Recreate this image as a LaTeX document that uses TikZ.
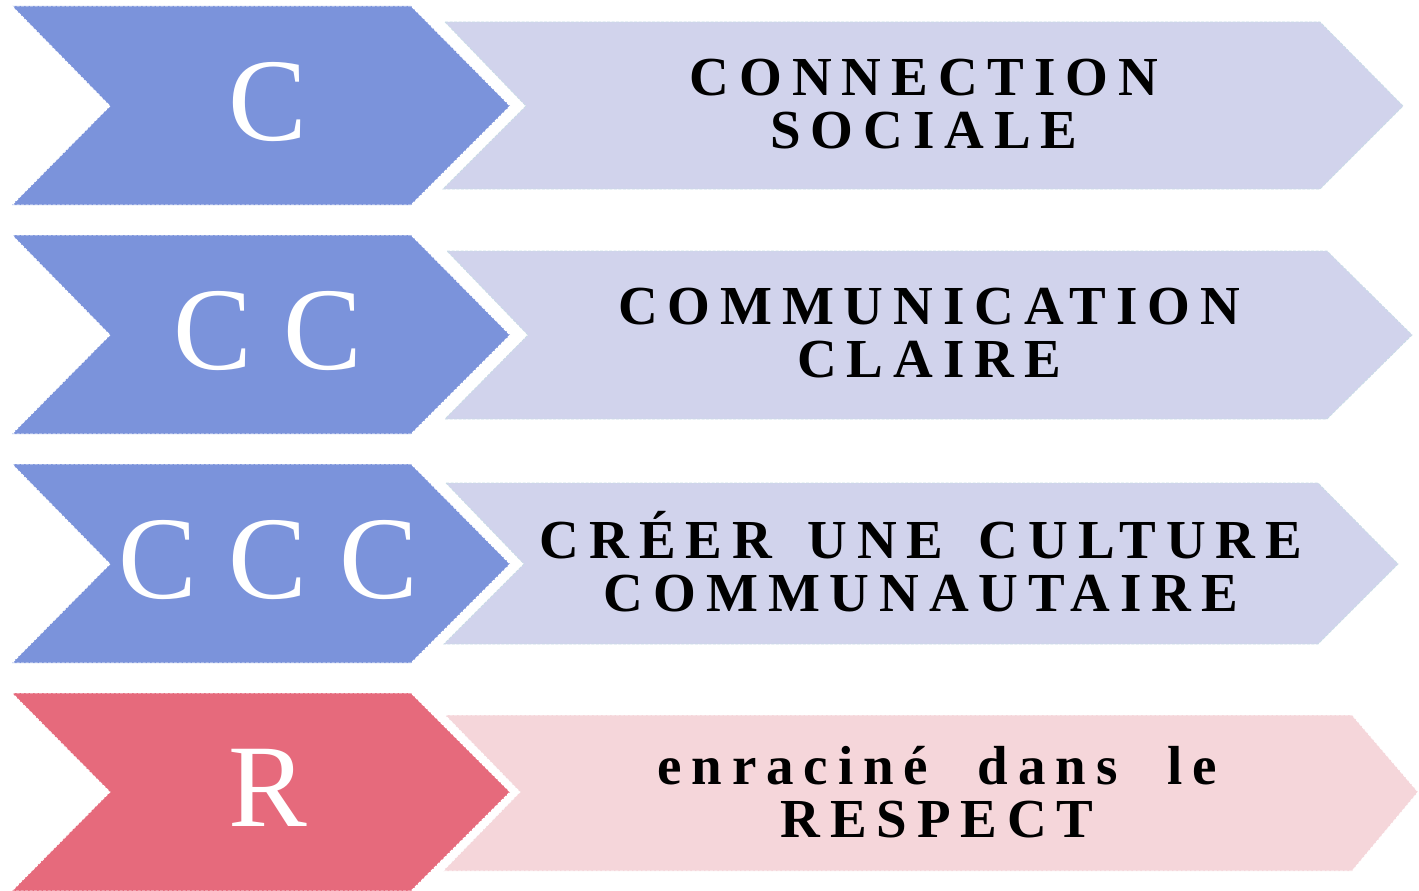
\documentclass[tikz,border=0pt]{standalone}
\usepackage{fontspec}
\setmainfont{Liberation Serif}
\newfontfamily\lblfont[LetterSpace=18,WordSpace=1.5]{Liberation Serif}
\newfontfamily\bigfont[LetterSpace=2]{Liberation Serif}
\definecolor{darkblue}{HTML}{7B93DB}
\definecolor{lightblue}{HTML}{D1D3EC}
\definecolor{darkred}{HTML}{E66A7C}
\definecolor{lightred}{HTML}{F5D6DA}
\definecolor{edgeblue}{HTML}{C9DCE6}
\tikzset{
  darkshape/.style={draw=white, line width=0.8pt, dash pattern=on 3pt off 1.5pt},
  lightshape/.style={draw=edgeblue, line width=0.8pt, dash pattern=on 3pt off 1.5pt},
  bigletter/.style={text=white, font=\bigfont\fontsize{118}{118}\selectfont, inner sep=0pt},
  label/.style={text=black, align=center, font=\lblfont\bfseries\fontsize{55}{53}\selectfont, inner sep=0pt}
}
\begin{document}
\begin{tikzpicture}[x=1pt,y=-1pt]
\useasboundingbox (0,0) rectangle (1419,891);
% row 1
\fill[darkblue,darkshape] (12,6) -- (411,6) -- (510,106) -- (411,205) -- (12,205) -- (110,106) -- cycle;
\fill[lightblue,lightshape] (445,22) -- (1320,22) -- (1403,106) -- (1320,189) -- (443,189) -- (526,106) -- cycle;
\node[bigletter] (l1) at (268,102) {C};
\node[label] (t1) at (924,104) {CONNECTION\\SOCIALE};
% row 2
\fill[darkblue,darkshape] (12,235) -- (411,235) -- (510,335) -- (411,434) -- (12,434) -- (110,335) -- cycle;
\fill[lightblue,lightshape] (447,251) -- (1327,251) -- (1412,335) -- (1327,419) -- (445,419) -- (528,335) -- cycle;
\node[bigletter] (l2) at (268,331) {C C};
\node[label] (t2) at (929,333) {COMMUNICATION\\CLAIRE};
% row 3
\fill[darkblue,darkshape] (12,464) -- (411,464) -- (510,564) -- (411,663) -- (12,663) -- (110,564) -- cycle;
\fill[lightblue,lightshape] (446,483) -- (1318,483) -- (1398,564) -- (1318,644) -- (444,644) -- (524,564) -- cycle;
\node[bigletter] (l3) at (268,560) {C C C};
\node[label] (t3) at (921,562) {CRÉER UNE CULTURE\\COMMUNAUTAIRE};
% row 4
\fill[darkred,darkshape] (12,693) -- (411,693) -- (510,792) -- (411,891) -- (12,891) -- (110,792) -- cycle;
\fill[lightred,draw=white,line width=0.8pt,dash pattern=on 3pt off 1.5pt] (445,715) -- (1352,715) -- (1418,792) -- (1352,871) -- (443,871) -- (520,792) -- cycle;
\node[bigletter] (l4) at (268,788) {R};
\node[label] (t4) at (937,792) {enraciné\hspace{14pt} dans\hspace{14pt} le\\RESPECT};
\end{tikzpicture}
\end{document}
